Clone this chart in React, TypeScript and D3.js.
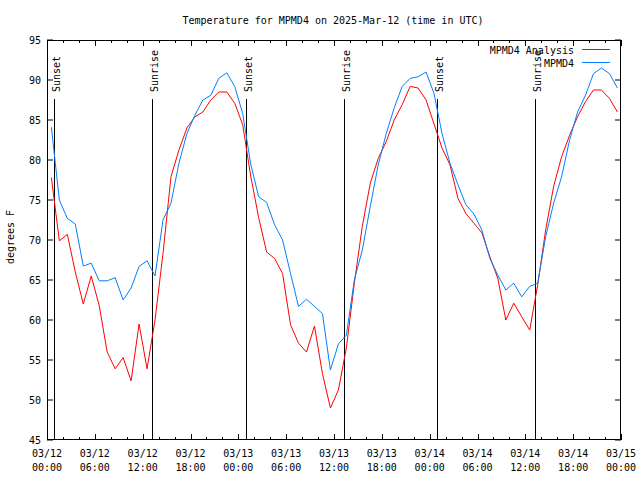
import React from "react";
import * as d3 from "d3";

const title = "Temperature for MPMD4 on 2025-Mar-12 (time in UTC)";
const yLabel = "degrees F";
const seriesNames = ["MPMD4 Analysis", "MPMD4"];
const seriesColors = ["#ff0000", "#0080ff"];

// hours after 2025-03-12 00:00 UTC of first observation; observations are hourly
const firstHour = 0.55;

const analysis = [
  77.8, 69.9, 70.7, 66.0, 62.0, 65.5, 61.8, 56.0, 53.9, 55.3, 52.4, 59.5,
  53.9, 60.0, 68.3, 77.9, 81.25, 84.0, 85.4, 86.0, 87.5, 88.5, 88.5, 87.1,
  84.4, 78.0, 72.8, 68.5, 67.7, 65.8, 59.4, 57.1, 56.0, 59.25, 53.3, 49.0,
  51.25, 56.5, 64.6, 71.7, 77.1, 80.2, 82.3, 85.0, 86.9, 89.2, 89.0, 87.5,
  84.5, 81.5, 79.4, 75.2, 73.3, 72.1, 70.9, 67.9, 65.2, 60.0, 62.1, 60.4,
  58.75, 64.4, 71.25, 76.7, 80.4, 83.1, 85.4, 87.3, 88.75, 88.75, 87.7, 86.0,
];

const observed = [
  84.1, 75.0, 72.7, 72.0, 66.75, 67.1, 64.9, 64.9, 65.3, 62.5, 64.0, 66.7,
  67.4, 65.5, 72.5, 74.6, 79.6, 83.3, 85.6, 87.5, 88.1, 90.2, 90.9, 89.2,
  85.8, 79.5, 75.4, 74.7, 71.9, 70.0, 65.8, 61.7, 62.6, 61.7, 60.8, 53.75,
  57.0, 58.1, 65.0, 68.75, 74.2, 79.4, 83.3, 86.5, 89.2, 90.2, 90.4, 91.0,
  88.3, 83.3, 79.6, 76.9, 74.4, 73.25, 71.25, 67.7, 65.6, 63.75, 64.6, 62.9,
  64.2, 64.6, 70.4, 74.6, 77.9, 82.5, 86.0, 88.1, 90.8, 91.5, 90.8, 89.0,
];

const sunEventLabels = ["Sunset", "Sunrise", "Sunset", "Sunrise", "Sunset", "Sunrise"];
const sunEventHours = [0.92, 13.13, 24.93, 37.2, 48.96, 61.18];

const yTicks = [45, 50, 55, 60, 65, 70, 75, 80, 85, 90, 95];
const xTickHours = [0, 6, 12, 18, 24, 30, 36, 42, 48, 54, 60, 66, 72];
const xTickDates = ["03/12", "03/12", "03/12", "03/12", "03/13", "03/13", "03/13", "03/13", "03/14", "03/14", "03/14", "03/14", "03/15"];
const xTickTimes = ["00:00", "06:00", "12:00", "18:00", "00:00", "06:00", "12:00", "18:00", "00:00", "06:00", "12:00", "18:00", "00:00"];

const W = 640, H = 480;
const L = 47, R = 621, T = 40, B = 440;
const FONT = "'DejaVu Sans Mono', monospace";

export default function App() {
  const x = d3.scaleLinear().domain([0, 72]).range([L, R]);
  const y = d3.scaleLinear().domain([45, 95]).range([B, T]);
  const line = d3
    .line<number>()
    .x((_, i) => x(firstHour + i))
    .y((d) => y(d));
  const minorHours = d3.range(0, 73, 2);

  return (
    <svg width={W} height={H} style={{ position: "absolute", left: 0, top: 0, background: "#fff" }}>
      <rect x={0} y={0} width={W} height={H} fill="#fff" />
      <text x={333} y={24} fontFamily={FONT} fontSize={10} textAnchor="middle">{title}</text>
      {/* y ticks */}
      {yTicks.map((t) => (
        <g key={"y" + t}>
          <line x1={L} x2={L + 6} y1={y(t)} y2={y(t)} stroke="#000" />
          <line x1={R - 6} x2={R} y1={y(t)} y2={y(t)} stroke="#000" />
          <text x={41} y={y(t) + 4} fontFamily={FONT} fontSize={10} textAnchor="end">{t}</text>
        </g>
      ))}
      {/* x minor/major ticks */}
      {minorHours.map((h) => {
        const major = h % 6 === 0;
        const len = major ? 6 : 3;
        const xp = Math.round(x(h)) + 0.5;
        return (
          <g key={"x" + h}>
            <line x1={xp} x2={xp} y1={B} y2={B - len} stroke="#000" />
            <line x1={xp} x2={xp} y1={T} y2={T + len} stroke="#000" />
          </g>
        );
      })}
      {xTickHours.map((h, i) => (
        <g key={"xl" + h}>
          <text x={x(h)} y={457} fontFamily={FONT} fontSize={10} textAnchor="middle">{xTickDates[i]}</text>
          <text x={x(h)} y={471} fontFamily={FONT} fontSize={10} textAnchor="middle">{xTickTimes[i]}</text>
        </g>
      ))}
      <text transform={`translate(14, 237) rotate(-90)`} fontFamily={FONT} fontSize={10} textAnchor="middle">{yLabel}</text>
      {/* sun events */}
      {sunEventHours.map((h, i) => {
        const xp = Math.round(x(h)) + 0.5;
        return (
          <g key={"s" + i}>
            <line x1={xp} x2={xp} y1={99} y2={B} stroke="#000" />
            <text transform={`translate(${xp + 5}, 92) rotate(-90)`} fontFamily={FONT} fontSize={10}>{sunEventLabels[i]}</text>
          </g>
        );
      })}
      {/* series */}
      <path d={line(analysis) || ""} fill="none" stroke={seriesColors[0]} strokeWidth={1} />
      <path d={line(observed) || ""} fill="none" stroke={seriesColors[1]} strokeWidth={1} />
      {/* frame */}
      <rect x={L + 0.5} y={T + 0.5} width={R - L - 1} height={B - T - 1} fill="none" stroke="#000" />
      {/* legend */}
      {seriesNames.map((n, i) => (
        <g key={"lg" + i}>
          <text x={574} y={53.5 + i * 13} fontFamily={FONT} fontSize={10} textAnchor="end">{n}</text>
          <line x1={582} x2={610} y1={49.5 + i * 13} y2={49.5 + i * 13} stroke={seriesColors[i]} />
        </g>
      ))}
    </svg>
  );
}
